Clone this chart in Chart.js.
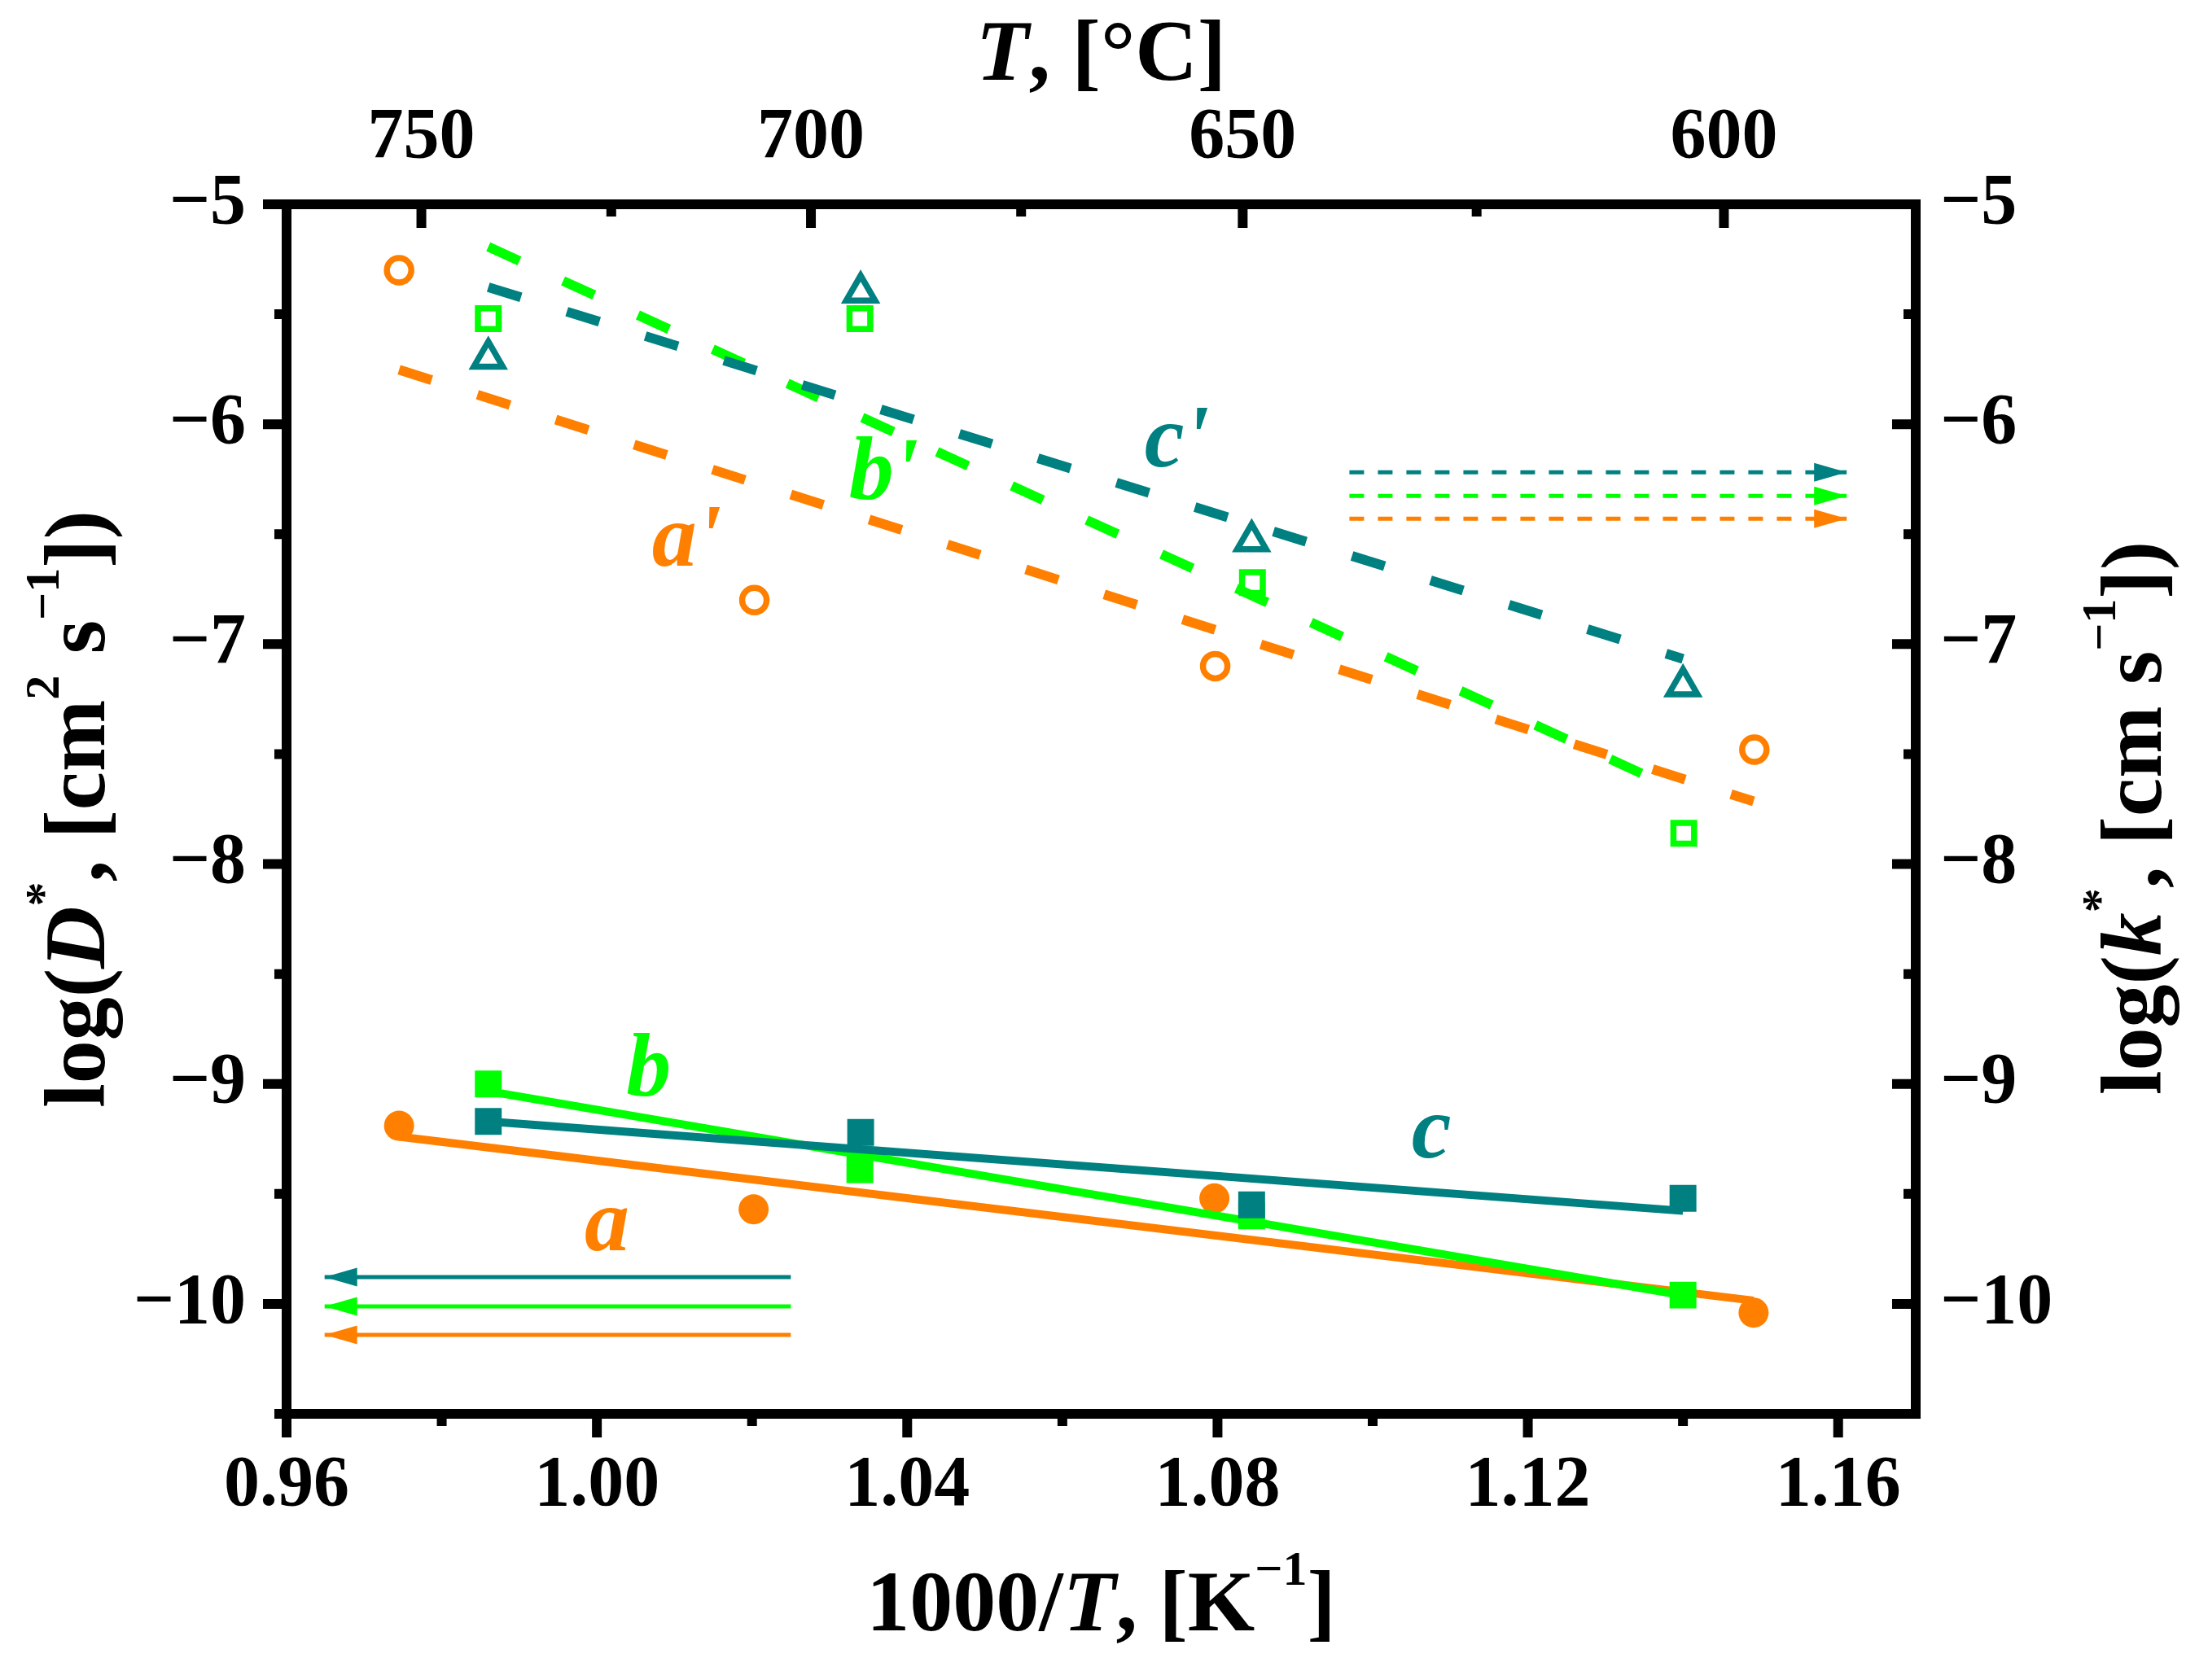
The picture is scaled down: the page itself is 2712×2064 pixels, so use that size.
<!DOCTYPE html>
<html>
<head>
<meta charset="utf-8">
<title>log D* and log k* vs 1000/T</title>
<script src="https://cdn.jsdelivr.net/npm/chart.js@4.4.1/dist/chart.umd.min.js"></script>
<style>
  html, body { margin: 0; padding: 0; background: #fff; }
  canvas { display: block; }
</style>
</head>
<body>
<canvas id="arrhenius" width="2712" height="2064"></canvas>
<script>
const ORANGE = "#ff8000"
const GREEN  = "#00ff00"
const TEAL   = "#008080"
const SERIF  = '"Liberation Serif", "Times New Roman", Times, serif'

// --- axis ticks ---
const X_MAJOR   = [0.96, 1.00, 1.04, 1.08, 1.12, 1.16]
const X_MINOR   = [0.98, 1.02, 1.06, 1.10, 1.14]
const Y_MAJOR   = [-10, -9, -8, -7, -6, -5]
const Y_MINOR   = [-10.5, -9.5, -8.5, -7.5, -6.5, -5.5]
const T_MAJOR_C = [750, 700, 650, 600]   // top axis, °C
const T_MINOR_C = [725, 675, 625]

// --- log D* (filled markers, solid fits) ---
const aX = [0.9745, 1.0202, 1.0796, 1.1491]
const aY = [-9.19, -9.57, -9.52, -10.04]
const bX = [0.9860, 1.0339, 1.0844, 1.1400]
const bY = [-9.00, -9.39, -9.60, -9.96]
const cX = [0.9860, 1.0340, 1.0844, 1.1400]
const cY = [-9.17, -9.22, -9.55, -9.52]
const aFitX = [0.9745, 1.1491]
const aFitY = [-9.24, -9.985]
const bFitX = [0.9860, 1.1400]
const bFitY = [-9.033, -9.961]
const cFitX = [0.9860, 1.1400]
const cFitY = [-9.17, -9.577]

// --- log k* (open markers, dashed fits) ---
const a2X = [0.9745, 1.0203, 1.0797, 1.1492]
const a2Y = [-5.30, -6.80, -7.10, -7.48]
const b2X = [0.9860, 1.0339, 1.0845, 1.1401]
const b2Y = [-5.52, -5.52, -6.72, -7.86]
const c2X = [0.9860, 1.0340, 1.0844, 1.1400]
const c2Y = [-5.70, -5.40, -6.53, -7.19]
const a2FitX = [0.9745, 1.1491]
const a2FitY = [-5.752, -7.715]
const b2FitX = [0.9860, 1.1400]
const b2FitY = [-5.193, -7.674]
const c2FitX = [0.9860, 1.1400]
const c2FitY = [-5.377, -7.067]

// --- axis arrows (teal, green, orange) ---
const ARROW_R_X = [1.0970, 1.1611]
const ARROW_R_Y = [-6.219, -6.326, -6.430]
const ARROW_L_X = [1.0250, 0.9649]
const ARROW_L_Y = [-9.878, -10.011, -10.141]

// --- series letters ---
const LABEL_TEXT  = ["a", "b", "c", "a'", "b'", "c'"]
const LABEL_X     = [0.9984, 1.0038, 1.1050, 1.0071, 1.0325, 1.0706]
const LABEL_Y     = [-9.756, -9.052, -9.333, -6.644, -6.341, -6.193]
const LABEL_COLOR = [ORANGE, GREEN, TEAL, ORANGE, GREEN, TEAL]

const toInvT = (c) => 1000 / (c + 273.15)
const pts = (xs, ys) => xs.map((x, i) => ({ x, y: ys[i] }))

const solidFit = (xs, ys, color, order) => ({
  data: pts(xs, ys), showLine: true, borderColor: color, borderWidth: 10,
  pointRadius: 0, order,
})
const dashedFit = (xs, ys, color, order) => ({
  data: pts(xs, ys), showLine: true, borderColor: color, borderWidth: 12,
  borderDash: [42, 59], borderCapStyle: "butt", pointRadius: 0, order,
})
const filled = (xs, ys, color, style, radius, order) => ({
  data: pts(xs, ys), showLine: false, pointStyle: style, pointRadius: radius,
  pointBackgroundColor: color, pointBorderWidth: 0, order,
})
const open = (xs, ys, color, style, radius, order) => ({
  data: pts(xs, ys), showLine: false, pointStyle: style, pointRadius: radius,
  pointBackgroundColor: "rgba(0,0,0,0)", pointBorderColor: color, pointBorderWidth: 7.5, order,
})
const arrow = (xs, y, color, dash) => ({
  data: pts(xs, [y, y]), showLine: true, borderColor: color, borderWidth: 5,
  borderDash: dash, borderCapStyle: "butt", pointRadius: 0, arrowHead: true, order: 0,
})

const COLORS = [TEAL, GREEN, ORANGE]
const datasets = [
  dashedFit(b2FitX, b2FitY, GREEN, 30),
  dashedFit(c2FitX, c2FitY, TEAL, 29),
  dashedFit(a2FitX, a2FitY, ORANGE, 28),
  open(a2X, a2Y, ORANGE, "circle", 15, 27),
  open(b2X, b2Y, GREEN, "rect", 18, 26),
  open(c2X, c2Y, TEAL, "triangle", 20.5, 25),
  solidFit(aFitX, aFitY, ORANGE, 14),
  filled(aX, aY, ORANGE, "circle", 18.5, 13),
  solidFit(bFitX, bFitY, GREEN, 12),
  filled(bX, bY, GREEN, "rect", 23.3, 11),
  solidFit(cFitX, cFitY, TEAL, 10),
  filled(cX, cY, TEAL, "rect", 23.3, 9),
  ...ARROW_R_Y.map((y, i) => arrow(ARROW_R_X, y, COLORS[i], [18, 17])),
  ...ARROW_L_Y.map((y, i) => arrow(ARROW_L_X, y, COLORS[i], [])),
]

// --- rich text (italic letters, superscripts) for axis titles ---
const TITLE_SIZE = 106
const SUP_SIZE   = 60
const SUP_RISE   = 56
const fontFor = (p) => `${p.it ? "italic " : ""}bold ${p.sup ? SUP_SIZE : TITLE_SIZE}px ${SERIF}`

const TITLE_LEFT   = [{ t: "log(" }, { t: "D", it: true }, { t: "*", sup: true }, { t: ", [cm" },
                      { t: "2", sup: true }, { t: " s" }, { t: "\u22121", sup: true }, { t: "])" }]
const TITLE_RIGHT  = [{ t: "log(" }, { t: "k", it: true }, { t: "*", sup: true }, { t: ", [cm s" },
                      { t: "\u22121", sup: true }, { t: "])" }]
const TITLE_BOTTOM = [{ t: "1000/" }, { t: "T", it: true }, { t: ", [K" }, { t: "\u22121", sup: true }, { t: "]" }]
const TITLE_TOP    = [{ t: "T", it: true }, { t: ", [\u00b0C]" }]

function drawRich(ctx, parts, x, y, angle) {
  ctx.save()
  ctx.translate(x, y)
  ctx.rotate(angle)
  ctx.fillStyle = "#000"
  ctx.textAlign = "left"
  ctx.textBaseline = "alphabetic"
  const widths = parts.map(p => { ctx.font = fontFor(p); return ctx.measureText(p.t).width })
  let cx = -widths.reduce((s, w) => s + w, 0) / 2
  parts.forEach((p, i) => {
    ctx.font = fontFor(p)
    ctx.fillText(p.t, cx, p.sup ? -SUP_RISE : 0)
    cx += widths[i]
  })
  ctx.restore()
}

function drawTicks(ctx, scale, values, len, edge, dir) {
  ctx.beginPath()
  values.forEach(v => {
    const p = scale.getPixelForValue(v)
    if (scale.isHorizontal()) { ctx.moveTo(p, edge); ctx.lineTo(p, edge + dir * len) }
    else                      { ctx.moveTo(edge, p); ctx.lineTo(edge + dir * len, p) }
  })
  ctx.stroke()
}

const decor = {
  id: "decor",
  afterDatasetsDraw(chart) {
    const ctx = chart.ctx
    const { x, y } = chart.scales

    // arrowheads at the last point of arrow datasets
    chart.data.datasets.forEach((ds, i) => {
      if (!ds.arrowHead) return
      const el = chart.getDatasetMeta(i).data
      const tip = el[el.length - 1], prev = el[el.length - 2]
      const ang = Math.atan2(tip.y - prev.y, tip.x - prev.x)
      ctx.save()
      ctx.translate(tip.x, tip.y)
      ctx.rotate(ang)
      ctx.fillStyle = ds.borderColor
      ctx.beginPath()
      ctx.moveTo(0, 0)
      ctx.lineTo(-40, -11.5)
      ctx.lineTo(-40, 11.5)
      ctx.closePath()
      ctx.fill()
      ctx.restore()
    })

    // series letters
    ctx.save()
    ctx.font = `italic bold 110px ${SERIF}`
    ctx.textAlign = "left"
    ctx.textBaseline = "alphabetic"
    LABEL_TEXT.forEach((t, i) => {
      ctx.fillStyle = LABEL_COLOR[i]
      ctx.fillText(t, x.getPixelForValue(LABEL_X[i]), y.getPixelForValue(LABEL_Y[i]))
    })
    ctx.restore()
  },
  afterDraw(chart) {
    const ctx = chart.ctx
    const { x, x2, y, y2 } = chart.scales
    const area = chart.chartArea
    ctx.save()
    ctx.strokeStyle = "#000"
    ctx.lineWidth = 12
    ctx.lineCap = "butt"
    drawTicks(ctx, x, X_MAJOR, 29, area.bottom, 1)
    drawTicks(ctx, x, X_MINOR, 15, area.bottom, 1)
    drawTicks(ctx, x2, T_MAJOR_C.map(toInvT), 29, area.top, 1)
    drawTicks(ctx, x2, T_MINOR_C.map(toInvT), 15, area.top, 1)
    drawTicks(ctx, y, Y_MAJOR, 29, area.left, -1)
    drawTicks(ctx, y, Y_MINOR, 15, area.left, -1)
    drawTicks(ctx, y2, Y_MAJOR, 29, area.right, -1)
    drawTicks(ctx, y2, Y_MINOR, 15, area.right, -1)
    ctx.restore()

    const midX = (area.left + area.right) / 2
    const midY = (area.top + area.bottom) / 2
    drawRich(ctx, TITLE_TOP, midX, area.top - 153, 0)
    drawRich(ctx, TITLE_BOTTOM, midX, area.bottom + 266, 0)
    drawRich(ctx, TITLE_LEFT, area.left - 224, midY, -Math.PI / 2)
    drawRich(ctx, TITLE_RIGHT, area.right + 301, midY + 11, -Math.PI / 2)
  },
}

const tickFont = { family: SERIF, size: 88, weight: "bold", lineHeight: 1 }
const minus = (v) => (v < 0 ? "\u2212" + Math.abs(v) : String(v))
const axisBase = {
  type: "linear",
  grid: { display: false, drawTicks: false, lineWidth: 12 },
  border: { display: true, color: "#000", width: 12 },
}

new Chart(document.getElementById("arrhenius"), {
  type: "scatter",
  data: { datasets },
  options: {
    responsive: false,
    devicePixelRatio: 1,
    animation: false,
    layout: { padding: 0 },
    plugins: { legend: { display: false }, tooltip: { enabled: false } },
    scales: {
      x: {
        ...axisBase, position: "bottom", min: 0.96, max: 1.17,
        afterBuildTicks: (s) => { s.ticks = X_MAJOR.map(value => ({ value })) },
        afterFit: (s) => { s.height = 327 },
        ticks: { autoSkip: false, maxRotation: 0, padding: 45, color: "#000", font: tickFont,
                 callback: (v) => Number(v).toFixed(2) },
      },
      x2: {
        ...axisBase, position: "top", min: 0.96, max: 1.17,
        afterBuildTicks: (s) => { s.ticks = T_MAJOR_C.map(c => ({ value: toInvT(c) })) },
        afterFit: (s) => { s.height = 251 },
        ticks: { autoSkip: false, maxRotation: 0, padding: 37, color: "#000", font: tickFont,
                 callback: (v, i) => String(T_MAJOR_C[i]) },
      },
      y: {
        ...axisBase, position: "left", min: -10.5, max: -5,
        afterBuildTicks: (s) => { s.ticks = Y_MAJOR.map(value => ({ value })) },
        afterFit: (s) => { s.width = 352 },
        ticks: { autoSkip: false, padding: 50, color: "#000", font: tickFont, callback: minus },
      },
      y2: {
        ...axisBase, position: "right", min: -10.5, max: -5,
        afterBuildTicks: (s) => { s.ticks = Y_MAJOR.map(value => ({ value })) },
        afterFit: (s) => { s.width = 359 },
        ticks: { autoSkip: false, padding: 30, color: "#000", font: tickFont, callback: minus },
      },
    },
  },
  plugins: [decor],
})
</script>
</body>
</html>
